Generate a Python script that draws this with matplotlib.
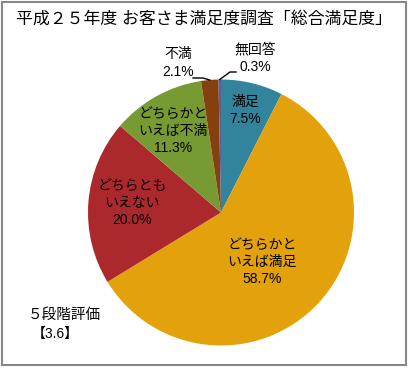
import numpy as np
import matplotlib
matplotlib.use('Agg')
import matplotlib.pyplot as plt
from matplotlib.patches import Rectangle

plt.rcParams['font.family'] = ['Liberation Sans', 'Noto Sans CJK JP', 'DejaVu Sans']

# data (clockwise from 12 o'clock)
labels = ['満足', 'どちらかと\nいえば満足', 'どちらとも\nいえない', 'どちらかと\nいえば不満', '不満', '無回答']
values = [7.5, 58.7, 20.0, 11.3, 2.1, 0.3]
colors = ['#31849b', '#e3a20b', '#ab282d', '#789a32', '#86400e', '#5a5fa0']
title = '平成２５年度 お客さま満足度調査「総合満足度」'
score_label = '５段階評価'
score = '【3.6】'

W, H = 408, 368
cx, cy, R = 221, 212.5, 133

fig = plt.figure(figsize=(W / 100, H / 100), dpi=100)
ax = fig.add_axes([(cx - R) / W, (H - cy - R) / H, 2 * R / W, 2 * R / H])
wedges, _ = ax.pie(values, colors=colors, startangle=90, counterclock=False,
                   radius=1, wedgeprops=dict(linewidth=0))
ax.set_xlim(-1, 1)
ax.set_ylim(-1, 1)
ax.set_aspect('equal')
ax.axis('off')

def to_data(px, py):
    return (px - cx) / R, (cy - py) / R

# label positions in pixels
label_pos = [(245, 110), (262, 262), (132, 203), (173, 131), (178, 63), (255, 58)]
fs = 10
for i, (lab, v) in enumerate(zip(labels, values)):
    x, y = to_data(*label_pos[i])
    ax.text(x, y, '%s\n%.1f%%' % (lab, v), ha='center', va='center', fontsize=fs,
            linespacing=1.3, color='black')

# leader lines for the small slices
cum = np.cumsum([0] + values)
total = sum(values)
elbows = {4: [(203, 78), (193, 78)], 5: [(230, 72), (236, 72)]}
for i, pts in elbows.items():
    ang = np.deg2rad(90 - (cum[i] + values[i] / 2) / total * 360)
    xs = [np.cos(ang)] + [to_data(*p)[0] for p in pts]
    ys = [np.sin(ang)] + [to_data(*p)[1] for p in pts]
    ax.plot(xs, ys, color='black', lw=1, clip_on=False)

fig.text(204 / W, 1 - 19 / H, title, ha='center', va='center', fontsize=12.2)
fig.text(64 / W, 1 - 315 / H, score_label, ha='center', va='center', fontsize=10.5)
fig.text(55 / W, 1 - 334 / H, score, ha='center', va='center', fontsize=10)

fig.add_artist(Rectangle((1.5 / W, 3.5 / H), 404 / W, 363 / H, transform=fig.transFigure,
                         fill=False, edgecolor='#888888', lw=1.5))

fig.savefig('out.png', dpi=100)
